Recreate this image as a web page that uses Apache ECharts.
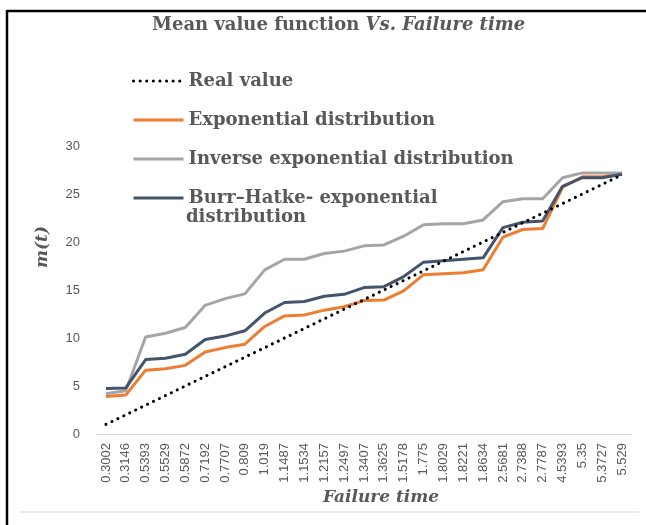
<!DOCTYPE html>
<html>
<head>
<meta charset="utf-8">
<script src="https://cdn.jsdelivr.net/npm/echarts@6/dist/echarts.min.js"></script>
<style>
html,body{margin:0;padding:0;background:#fff;}
#chart{width:646px;height:525px;}
</style>
</head>
<body>
<div id="chart"></div>
<script>
const categories = ['0.3002','0.3146','0.5393','0.5529','0.5872','0.7192','0.7707','0.809','1.019','1.1487','1.1534','1.2157','1.2497','1.3407','1.3625','1.5178','1.775','1.8029','1.8221','1.8634','2.5681','2.7388','2.7787','4.5393','5.35','5.3727','5.529'];
const realValue = [1,2,3,4,5,6,7,8,9,10,11,12,13,14,15,16,17,18,19,20,21,22,23,24,25,26,27];
const exponential = [3.9,4.05,6.65,6.8,7.15,8.55,9.0,9.35,11.2,12.3,12.4,12.9,13.25,13.9,13.95,14.9,16.6,16.7,16.8,17.1,20.5,21.3,21.4,25.7,26.8,26.8,27.05];
const inverseExp = [4.2,4.5,10.1,10.5,11.1,13.4,14.1,14.6,17.1,18.2,18.2,18.8,19.05,19.6,19.7,20.6,21.8,21.9,21.9,22.3,24.2,24.5,24.5,26.7,27.2,27.2,27.2];
const burrHatke = [4.75,4.8,7.75,7.9,8.3,9.85,10.2,10.75,12.6,13.7,13.8,14.35,14.55,15.25,15.35,16.4,17.9,18.05,18.2,18.35,21.5,22.05,22.2,25.8,26.7,26.7,27.05];
const yTicks = [0,5,10,15,20,25,30];

const serif = '"DejaVu Serif", serif';
const chart = echarts.init(document.getElementById('chart'));
chart.setOption({
  backgroundColor: '#fff',
  animation: false,
  title: {
    text: '{b|Mean value function }{i|Vs. Failure time}',
    left: 147,
    top: 11,
    textStyle: {
      rich: {
        b: {fontFamily: serif, fontWeight: 'bold', fontSize: 18, color: '#595959'},
        i: {fontFamily: serif, fontWeight: 'bold', fontStyle: 'italic', fontSize: 18, color: '#595959'}
      }
    }
  },
  legend: {
    orient: 'vertical',
    left: 127,
    top: 66,
    itemWidth: 50,
    itemHeight: 14,
    itemGap: 19,
    itemStyle: {opacity: 0},
    lineStyle: {width: 3},
    data: ['Real value','Exponential distribution','Inverse exponential distribution','Burr–Hatke- exponential'],
    textStyle: {fontFamily: serif, fontWeight: 'bold', fontSize: 18, color: '#595959', lineHeight: 20}
  },
  grid: {left: 96, right: 14, top: 146, bottom: 91},
  xAxis: {
    type: 'category',
    data: categories,
    boundaryGap: true,
    axisLine: {lineStyle: {color: '#D9D9D9', width: 1}},
    axisTick: {show: false},
    axisLabel: {rotate: 90, interval: 0, fontFamily: '"Liberation Sans", Arial, sans-serif', fontSize: 13, color: '#595959', margin: 9}
  },
  yAxis: {
    type: 'value',
    min: 0, max: 30, interval: 5,
    splitLine: {show: false},
    axisLine: {show: false},
    axisTick: {show: false},
    axisLabel: {fontFamily: '"Liberation Sans", Arial, sans-serif', fontSize: 13, color: '#595959', margin: 16,
      formatter: v => yTicks.includes(v) ? String(v) : ''}
  },
  graphic: [
    {type: 'line', shape: {x1: 7, y1: 11, x2: 646, y2: 11}, style: {stroke: '#000', lineWidth: 2.5}},
    {type: 'line', shape: {x1: 7, y1: 10, x2: 7, y2: 525}, style: {stroke: '#000', lineWidth: 2.5}},
    {type: 'line', shape: {x1: 20, y1: 512, x2: 639, y2: 512}, style: {stroke: '#D9D9D9', lineWidth: 1}},
    {type: 'text', x: 186, y: 217, style: {text: 'distribution', font: 'bold 18px "DejaVu Serif", serif', fill: '#595959', textVerticalAlign: 'middle'}},
    {type: 'text', x: 43, y: 247, rotation: Math.PI/2, style: {text: 'm(t)', font: 'italic bold 17px "DejaVu Serif", serif', fill: '#595959', textAlign: 'center', textVerticalAlign: 'middle'}},
    {type: 'text', x: 381, y: 498, style: {text: 'Failure time', font: 'italic bold 17px "DejaVu Serif", serif', fill: '#595959', textAlign: 'center', textVerticalAlign: 'middle'}}
  ],
  series: [
    {name: 'Real value', type: 'line', data: realValue, symbol: 'none', z: 5,
      lineStyle: {color: '#000', width: 3, type: [0.1, 6.5], cap: 'round'}, itemStyle: {color: '#000'}},
    {name: 'Exponential distribution', type: 'line', data: exponential, symbol: 'none',
      lineStyle: {color: '#ED7D31', width: 3}, itemStyle: {color: '#ED7D31'}},
    {name: 'Inverse exponential distribution', type: 'line', data: inverseExp, symbol: 'none',
      lineStyle: {color: '#A5A5A5', width: 3}, itemStyle: {color: '#A5A5A5'}},
    {name: 'Burr–Hatke- exponential', type: 'line', data: burrHatke, symbol: 'none',
      lineStyle: {color: '#44546A', width: 3}, itemStyle: {color: '#44546A'}}
  ]
});
</script>
</body>
</html>
